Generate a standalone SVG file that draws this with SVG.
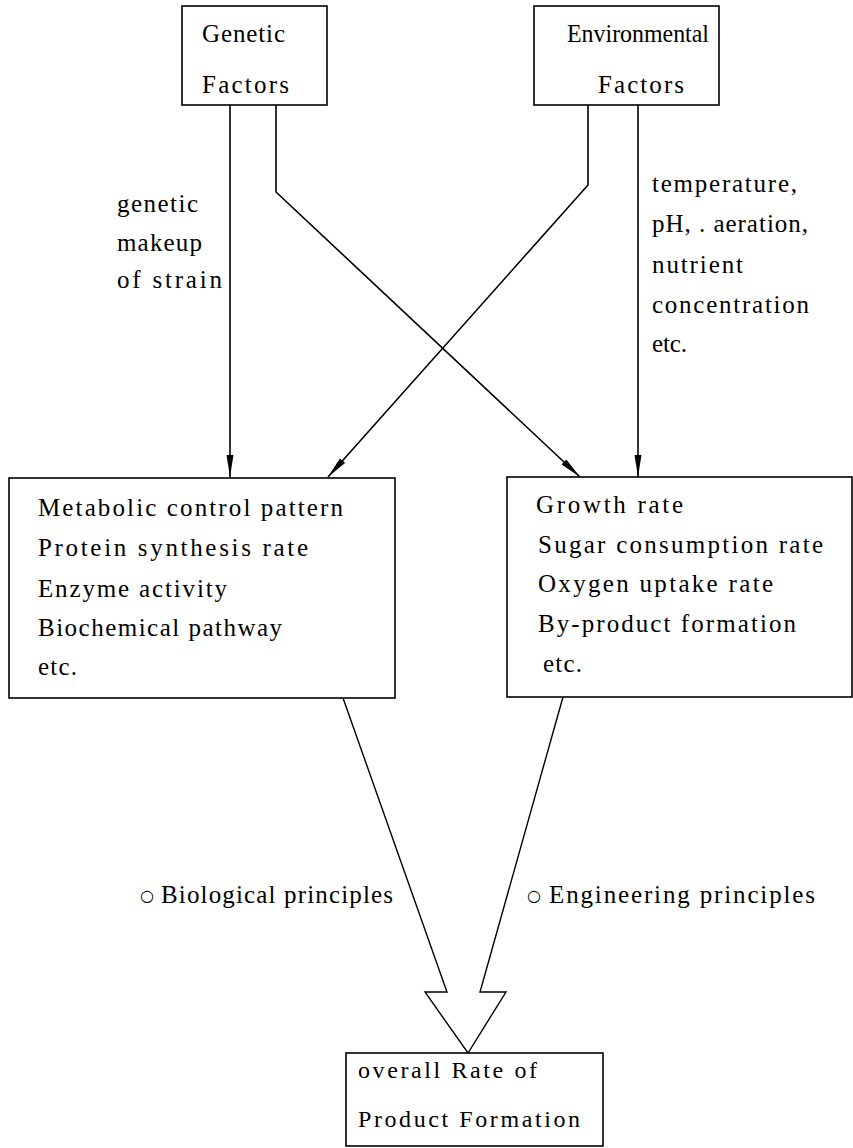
<svg xmlns="http://www.w3.org/2000/svg" width="853" height="1148" viewBox="0 0 853 1148">
<style>
.box{fill:#fff;stroke:#000;stroke-width:1.6}
.t{font-family:"Liberation Serif","DejaVu Serif",serif;font-size:25px;fill:#000}
.b{font-family:"Liberation Serif","DejaVu Serif",serif;font-size:24px;fill:#000}
.o{font-family:"DejaVu Sans",sans-serif;font-size:16px;fill:#000}
.c{fill:none;stroke:#000;stroke-width:1.6}
.h{fill:none;stroke:#000;stroke-width:1.4;stroke-linejoin:miter}
</style>
<defs>
<marker id="ah" viewBox="0 0 22 8" refX="22" refY="4" markerWidth="22" markerHeight="8" markerUnits="userSpaceOnUse" orient="auto">
<path d="M0,0.5 L22,4 L0,7.5 Z" fill="#000"/>
</marker>
</defs>
<rect width="853" height="1148" fill="#fff"/>
<g id="connectors">
<path class="c" d="M230,105 L230,477" marker-end="url(#ah)"/>
<path class="c" d="M276,105 L276,192 L580,477" marker-end="url(#ah)"/>
<path class="c" d="M588,105 L588,185 L328,477" marker-end="url(#ah)"/>
<path class="c" d="M638,105 L638,477" marker-end="url(#ah)"/>
<path class="h" d="M343,698 L447,992 L425,992 L468,1053 L506,992 L480,992 L563,697"/>
</g>
<g id="genetic">
<rect class="box" x="182" y="6" width="145" height="99"/>
<text class="t" x="202" y="42" textLength="83" lengthAdjust="spacing">Genetic</text>
<text class="t" x="202" y="93" textLength="87" lengthAdjust="spacing">Factors</text>
</g>
<g id="environmental">
<rect class="box" x="534" y="6" width="185" height="99"/>
<text class="t" x="567" y="42" textLength="142" lengthAdjust="spacingAndGlyphs">Environmental</text>
<text class="t" x="598" y="93" textLength="86" lengthAdjust="spacing">Factors</text>
</g>
<g id="label-genetic">
<text class="t" x="117" y="212" textLength="81" lengthAdjust="spacing">genetic</text>
<text class="t" x="117" y="251" textLength="85" lengthAdjust="spacing">makeup</text>
<text class="t" x="117" y="288" textLength="105" lengthAdjust="spacing">of strain</text>
</g>
<g id="label-environmental">
<text class="t" x="652" y="192" textLength="145" lengthAdjust="spacing">temperature,</text>
<text class="t" x="652" y="232" textLength="156" lengthAdjust="spacing">pH, . aeration,</text>
<text class="t" x="652" y="273" textLength="91" lengthAdjust="spacing">nutrient</text>
<text class="t" x="652" y="313" textLength="157" lengthAdjust="spacing">concentration</text>
<text class="t" x="652" y="352" textLength="35" lengthAdjust="spacing">etc.</text>
</g>
<g id="biological">
<rect class="box" x="9" y="478" width="386" height="220"/>
<text class="t" x="38" y="516" textLength="305" lengthAdjust="spacing">Metabolic control pattern</text>
<text class="t" x="38" y="556" textLength="270" lengthAdjust="spacing">Protein synthesis rate</text>
<text class="t" x="38" y="597" textLength="189" lengthAdjust="spacing">Enzyme activity</text>
<text class="t" x="38" y="636" textLength="244" lengthAdjust="spacing">Biochemical pathway</text>
<text class="t" x="38" y="675" textLength="39" lengthAdjust="spacing">etc.</text>
</g>
<g id="engineering">
<rect class="box" x="507" y="477" width="345" height="220"/>
<text class="t" x="536" y="513" textLength="147" lengthAdjust="spacing">Growth rate</text>
<text class="t" x="538" y="553" textLength="285" lengthAdjust="spacing">Sugar consumption rate</text>
<text class="t" x="538" y="592" textLength="235" lengthAdjust="spacing">Oxygen uptake rate</text>
<text class="t" x="538" y="632" textLength="258" lengthAdjust="spacing">By-product formation</text>
<text class="t" x="543" y="672" textLength="39" lengthAdjust="spacing">etc.</text>
</g>
<g id="principle-labels">
<text class="o" x="140" y="901">○</text>
<text class="t" x="161" y="903" textLength="232" lengthAdjust="spacing">Biological principles</text>
<text class="o" x="527" y="901">○</text>
<text class="t" x="549" y="903" textLength="266" lengthAdjust="spacing">Engineering principles</text>
</g>
<g id="product">
<rect class="box" x="346" y="1053" width="257" height="93"/>
<text class="b" x="358" y="1078" textLength="179" lengthAdjust="spacing">overall Rate of</text>
<text class="b" x="358" y="1127" textLength="222" lengthAdjust="spacing">Product Formation</text>
</g>
</svg>
